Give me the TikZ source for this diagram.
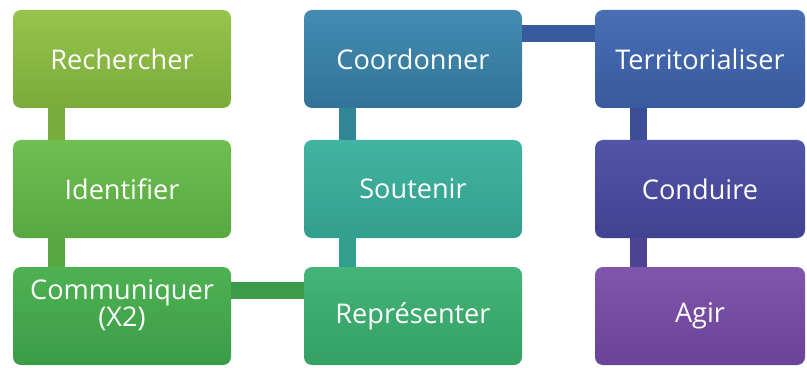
\documentclass[tikz,border=0pt]{standalone}
\usepackage{fontspec}
\setmainfont{Open Sans}
\usepackage{tikz}
\usetikzlibrary{positioning,calc}

\definecolor{rechTop}{RGB}{150,196,76}
\definecolor{rechBot}{RGB}{122,170,58}
\definecolor{idenTop}{RGB}{110,190,80}
\definecolor{idenBot}{RGB}{88,168,66}
\definecolor{commTop}{RGB}{78,178,82}
\definecolor{commBot}{RGB}{58,156,72}
\definecolor{reprTop}{RGB}{68,180,120}
\definecolor{reprBot}{RGB}{52,160,100}
\definecolor{soutTop}{RGB}{66,180,162}
\definecolor{soutBot}{RGB}{50,158,142}
\definecolor{coorTop}{RGB}{66,140,178}
\definecolor{coorBot}{RGB}{50,116,152}
\definecolor{terrTop}{RGB}{72,110,180}
\definecolor{terrBot}{RGB}{56,90,158}
\definecolor{condTop}{RGB}{82,84,168}
\definecolor{condBot}{RGB}{66,66,146}
\definecolor{agirTop}{RGB}{128,86,172}
\definecolor{agirBot}{RGB}{106,66,150}

\begin{document}
\begin{tikzpicture}
    % Fix the page size
    \useasboundingbox (0,0) rectangle (20.175,9.175);

    % Styles for the boxes and the bars
    \tikzset{
        etape/.style={rounded corners=0.2cm, minimum width=5.45cm, minimum height=2.45cm,
            text=white, align=center, font=\fontsize{19.3}{19}\selectfont},
        lien/.style={line width=0.42cm}
    }

    % First column (greens)
    \node[etape, top color=rechTop, bottom color=rechBot] (rech) at (3.05,7.7) {Rechercher};
    \node[etape, top color=idenTop, bottom color=idenBot] (iden) at (3.05,4.45) {Identifier};
    \node[etape, text depth=0.65cm, top color=commTop, bottom color=commBot] (comm) at (3.05,1.275) {Communiquer\\(X2)};

    % Second column (teal / blue)
    \node[etape, top color=coorTop, bottom color=coorBot] (coor) at (10.325,7.7) {Coordonner};
    \node[etape, top color=soutTop, bottom color=soutBot] (sout) at (10.325,4.45) {Soutenir};
    \node[etape, top color=reprTop, bottom color=reprBot] (repr) at (10.325,1.275) {Représenter};

    % Third column (blue / purple)
    \node[etape, minimum width=5.25cm, top color=terrTop, bottom color=terrBot] (terr) at (17.5,7.7) {Territorialiser};
    \node[etape, minimum width=5.25cm, top color=condTop, bottom color=condBot] (cond) at (17.5,4.45) {Conduire};
    \node[etape, minimum width=5.25cm, top color=agirTop, bottom color=agirBot] (agir) at (17.5,1.275) {Agir};

    % Vertical bars
    \draw[lien, color=rechBot!85!idenTop] ([xshift=1.1cm]rech.south west) -- ([xshift=1.1cm]iden.north west);
    \draw[lien, color=idenBot] ([xshift=1.1cm]iden.south west) -- ([xshift=1.1cm]comm.north west);
    \draw[lien, color=coorBot!60!soutBot] ([xshift=1.1cm]coor.south west) -- ([xshift=1.1cm]sout.north west);
    \draw[lien, color=soutBot] ([xshift=1.1cm]sout.south west) -- ([xshift=1.1cm]repr.north west);
    \draw[lien, color=terrBot!50!condBot] ([xshift=1.1cm]terr.south west) -- ([xshift=1.1cm]cond.north west);
    \draw[lien, color=condBot!70!agirBot] ([xshift=1.1cm]cond.south west) -- ([xshift=1.1cm]agir.north west);

    % Horizontal bars
    \draw[lien, color=commBot] ([yshift=-0.6cm]comm.north east) -- ([yshift=-0.6cm]repr.north west);
    \draw[lien, color=terrBot] ([yshift=-0.6cm]coor.north east) -- ([yshift=-0.6cm]terr.north west);
\end{tikzpicture}
\end{document}
